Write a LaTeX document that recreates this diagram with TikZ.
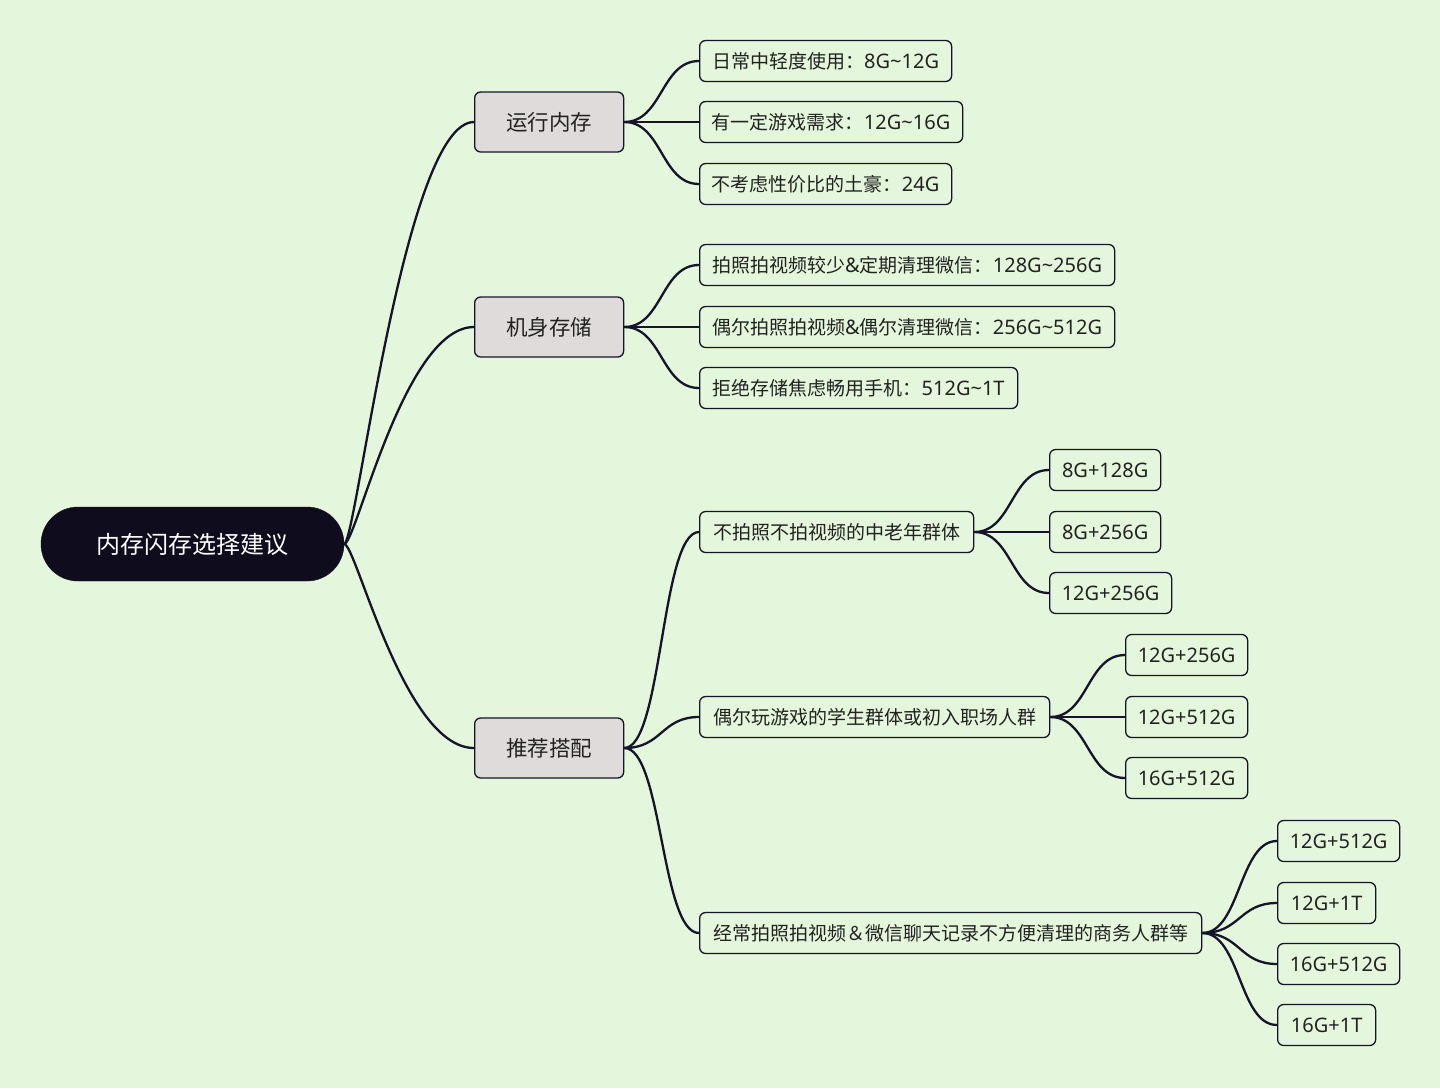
\documentclass[tikz,border=0pt]{standalone}
\usepackage{fontspec}
\newfontfamily\cjk{Noto Sans CJK SC}
\newfontfamily\latinfont{Noto Sans}
\newcommand\lt[1]{{\latinfont\fontsize{20}{22}\selectfont #1}}
\definecolor{bgcol}{HTML}{E4F6DB}
\definecolor{rootcol}{HTML}{0F0C1E}
\definecolor{midcol}{HTML}{E0DBDB}
\definecolor{linecol}{HTML}{15142A}
\definecolor{txtcol}{HTML}{222222}
\begin{document}
\begin{tikzpicture}[x=1pt,y=-1pt,
  rootbox/.style={fill=rootcol,draw=rootcol,rounded corners=37pt,minimum width=303pt,minimum height=74pt,text=white,font=\cjk\fontsize{24}{28}\selectfont,inner sep=0pt},
  midbox/.style={fill=midcol,draw=linecol,line width=1.3pt,rounded corners=6pt,minimum width=149pt,minimum height=60pt,anchor=west,text=txtcol,font=\cjk\fontsize{21.5}{25}\selectfont,inner sep=0pt},
  leafbox/.style={fill=bgcol,draw=linecol,line width=1.3pt,rounded corners=6pt,minimum height=41pt,anchor=west,text=txtcol,font=\cjk\fontsize{19}{22}\selectfont,inner sep=0pt},
  rootlink/.style={draw=linecol,line width=2.3pt},
  link/.style={draw=linecol,line width=2.3pt}
]
\fill[bgcol] (0,0) rectangle (1440,1088);
\useasboundingbox (0,0) rectangle (1440,1088);

\node[rootbox] (root) at (192.5,544) {内存闪存选择建议};

\node[midbox] (m1) at (474,122) {运行内存};
\node[midbox] (m2) at (474,327) {机身存储};
\node[midbox] (m3) at (474,748) {推荐搭配};

\node[leafbox,minimum width=252pt] (r1) at (699,61) {日常中轻度使用：\lt{8G\textasciitilde 12G}};
\node[leafbox,minimum width=263pt] (r2) at (699,122) {有一定游戏需求：\lt{12G\textasciitilde 16G}};
\node[leafbox,minimum width=252pt] (r3) at (699,184) {不考虑性价比的土豪：\lt{24G}};

\node[leafbox,minimum width=415pt] (s1) at (699,265) {拍照拍视频较少\lt{\&}定期清理微信：\lt{128G\textasciitilde 256G}};
\node[leafbox,minimum width=415pt] (s2) at (699,327) {偶尔拍照拍视频\lt{\&}偶尔清理微信：\lt{256G\textasciitilde 512G}};
\node[leafbox,minimum width=318pt] (s3) at (699,388) {拒绝存储焦虑畅用手机：\lt{512G\textasciitilde 1T}};

\node[leafbox,minimum width=274pt] (p1) at (699,532) {不拍照不拍视频的中老年群体};
\node[leafbox,minimum width=350pt] (p2) at (699,717) {偶尔玩游戏的学生群体或初入职场人群};
\node[leafbox,minimum width=502pt] (p3) at (699,933) {经常拍照拍视频＆微信聊天记录不方便清理的商务人群等};

\node[leafbox,minimum width=111pt] (a1) at (1049,470) {\lt{8G+128G}};
\node[leafbox,minimum width=111pt] (a2) at (1049,532) {\lt{8G+256G}};
\node[leafbox,minimum width=122pt] (a3) at (1049,593) {\lt{12G+256G}};

\node[leafbox,minimum width=122pt] (b1) at (1125,655) {\lt{12G+256G}};
\node[leafbox,minimum width=122pt] (b2) at (1125,717) {\lt{12G+512G}};
\node[leafbox,minimum width=122pt] (b3) at (1125,778) {\lt{16G+512G}};

\node[leafbox,minimum width=122pt] (c1) at (1277,841) {\lt{12G+512G}};
\node[leafbox,minimum width=98pt] (c2) at (1277,903) {\lt{12G+1T}};
\node[leafbox,minimum width=122pt] (c3) at (1277,964) {\lt{16G+512G}};
\node[leafbox,minimum width=98pt] (c4) at (1277,1025) {\lt{16G+1T}};

\foreach \m in {m1,m2,m3}
  \draw[rootlink] (root.east) .. controls +(12,0) and +(-70,0) .. (\m.west);
\foreach \a/\b in {m1/r1,m1/r2,m1/r3,m2/s1,m2/s2,m2/s3,m3/p1,m3/p2,m3/p3,p1/a1,p1/a2,p1/a3,p2/b1,p2/b2,p2/b3,p3/c1,p3/c2,p3/c3,p3/c4}
  \draw[link] (\a.east) .. controls +(38,0) and +(-38,0) .. (\b.west);
\end{tikzpicture}
\end{document}
